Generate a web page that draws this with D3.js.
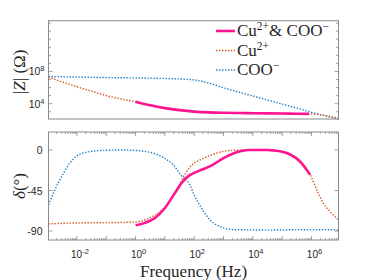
<!DOCTYPE html>
<html>
<head>
<meta charset="utf-8">
<script src="https://cdn.jsdelivr.net/npm/d3@7"></script>
<style>
  body { margin: 0; background: #fff; }
  svg text { fill: #262626; }
</style>
</head>
<body>
<div id="chart"></div>
<script>
// frequency exponents (log10 Hz) and values
const magFreq   = [-2.97, -2.5, -2, -1.5, -1, -0.5, 0, 0.5, 1, 1.5, 2, 2.5, 3, 3.5, 4, 4.5, 5, 5.5, 6, 6.5, 6.92];
const magCu     = [7.3, 6.7, 6.1, 5.55, 5.0, 4.6, 4.22, 3.8, 3.45, 3.2, 3.02, 2.92, 2.87, 2.84, 2.82, 2.8, 2.78, 2.76, 2.72, 2.52, 2.2];
const magCoo    = [7.38, 7.34, 7.3, 7.27, 7.24, 7.22, 7.2, 7.17, 7.13, 7.07, 6.95, 6.55, 5.97, 5.45, 4.95, 4.45, 3.95, 3.45, 2.93, 2.45, 2.05];
const bothFreq  = [0, 0.5, 1, 1.5, 2, 2.5, 3, 3.5, 4, 4.5, 5, 5.5, 5.92];
const magBoth   = [4.25, 3.8, 3.45, 3.2, 3.02, 2.92, 2.87, 2.84, 2.82, 2.8, 2.78, 2.76, 2.74];

const phCuFreq  = [-2.97, -2, -1, 0, 0.43, 0.77, 1.1, 1.44, 1.7, 2.0, 2.2, 2.55, 2.9, 3.35, 4, 4.7, 5.0, 5.3, 5.73, 5.95, 6.2, 6.4, 6.62, 6.92];
const phCu      = [-82.2, -81, -80.7, -80, -76.3, -70, -60, -42, -26, -14.5, -11, -6, -2.2, -0.3, 0, 0, -1.5, -5, -16, -27, -46, -59, -68, -77.5];
const phCooFreq = [-2.97, -2.75, -2.5, -2.25, -2, -1.75, -1.5, -1, -0.5, 0, 0.3, 0.6, 0.87, 1.1, 1.27, 1.55, 1.84, 2.0, 2.2, 2.55, 3, 3.35, 4, 4.5, 5, 5.5, 6, 6.5, 6.92];
const phCoo     = [-61, -44, -28, -15, -6.5, -3, -1.5, -0.3, 0, -0.5, -1.5, -3.5, -7, -11.5, -16, -28, -38, -50, -62, -78, -86.5, -88.5, -88.8, -89, -88.8, -88.5, -88.8, -88.5, -89];
const phBothFreq = [0, 0.32, 0.66, 1.0, 1.34, 1.57, 1.8, 2.0, 2.25, 2.55, 3.0, 3.57, 3.9, 4.5, 4.7, 5.0, 5.27, 5.6, 5.95];
const phBoth    = [-83.7, -81, -75.5, -64.4, -47.8, -36.7, -29, -25.5, -22, -18, -9, -1.5, 0, 0, -0.5, -2, -5, -12.6, -27.4];

const xTickExp   = [-2, 0, 2, 4, 6];
const magTickExp = [4, 8];
const phTicks    = [0, -45, -90];

const colors = {both: "#ff1493", cu: "#d95319", coo: "#1f80c8"};

const W = 374, H = 280;
const svg = d3.select("#chart").append("svg")
  .attr("width", W).attr("height", H);

const x = d3.scaleLog().domain([Math.pow(10, -2.97), Math.pow(10, 6.92)]).range([48.5, 338.5]);
const yMag = d3.scaleLog().domain([Math.pow(10, 2.1), Math.pow(10, 14.3)]).range([119, 20.7]);
const yPh = d3.scaleLinear().domain([-100, 20]).range([240, 132]);

const axisCol = "#8a8a8a";
const sans = "'Liberation Sans', Arial, sans-serif";
const serif = "'Liberation Serif', 'DejaVu Serif', serif";

function pts(fr, vals, log) {
  return fr.map((f, i) => ({f: Math.pow(10, f), v: log ? Math.pow(10, vals[i]) : vals[i]}));
}

function drawLine(g, data, y, col, solid) {
  const line = d3.line().x(d => x(d.f)).y(d => y(d.v)).curve(d3.curveMonotoneX);
  g.append("path").datum(data)
    .attr("d", line)
    .attr("fill", "none")
    .attr("stroke", col)
    .attr("stroke-width", solid ? 2.6 : 1.4)
    .attr("stroke-dasharray", solid ? null : "1.4 1.6");
}

function pow10Label(sel, exp, anchor) {
  sel.attr("text-anchor", anchor);
  sel.append("tspan").text("10");
  sel.append("tspan").attr("dy", -4).attr("font-size", 7.5).text(exp);
}

// ---------- top panel: |Z| ----------
const [x0, x1] = x.range();
const topG = svg.append("g");
const t0 = yMag.range()[1], t1 = yMag.range()[0];

drawLine(topG, pts(magFreq, magCoo, true), yMag, colors.coo, false);
drawLine(topG, pts(magFreq, magCu, true), yMag, colors.cu, false);
drawLine(topG, pts(bothFreq, magBoth, true), yMag, colors.both, true);

// decade ticks on both sides
d3.range(3, 15).forEach(e => {
  const yy = yMag(Math.pow(10, e));
  const len = magTickExp.includes(e) ? 4 : 2.5;
  topG.append("line").attr("x1", x0).attr("x2", x0 + len).attr("y1", yy).attr("y2", yy).attr("stroke", axisCol).attr("stroke-width", 0.8);
  topG.append("line").attr("x1", x1).attr("x2", x1 - len).attr("y1", yy).attr("y2", yy).attr("stroke", axisCol).attr("stroke-width", 0.8);
});
topG.append("rect").attr("x", x0).attr("y", t0).attr("width", x1 - x0).attr("height", t1 - t0)
  .attr("fill", "none").attr("stroke", axisCol).attr("stroke-width", 1);

magTickExp.forEach(e => {
  topG.append("text").attr("x", x0 - 4).attr("y", yMag(Math.pow(10, e)) + 4)
    .attr("font-family", sans).attr("font-size", 10.5)
    .call(s => pow10Label(s, e, "end"));
});

topG.append("text")
  .attr("transform", `translate(25,${(t0 + t1) / 2 + 2}) rotate(-90)`)
  .attr("text-anchor", "middle").attr("font-family", serif).attr("font-size", 17)
  .call(s => {
    s.append("tspan").text("|");
    s.append("tspan").attr("font-style", "italic").text("Z");
    s.append("tspan").text("| (Ω)");
  });

// legend
const legend = [
  {name: "Cu", sup: "2+", rest: "& COO", sup2: "−", col: colors.both, solid: true},
  {name: "Cu", sup: "2+", rest: "", sup2: "", col: colors.cu, solid: false},
  {name: "COO", sup: "−", rest: "", sup2: "", col: colors.coo, solid: false}
];
legend.forEach((d, i) => {
  const ly = 31 + i * 19.5;
  topG.append("line").attr("x1", 216).attr("x2", 235).attr("y1", ly).attr("y2", ly)
    .attr("stroke", d.col).attr("stroke-width", d.solid ? 2.6 : 1.4)
    .attr("stroke-dasharray", d.solid ? null : "1.4 1.6");
  const t = topG.append("text").attr("x", 237).attr("y", ly + 5)
    .attr("font-family", serif).attr("font-size", 17);
  t.append("tspan").text(d.name);
  t.append("tspan").attr("dy", -6).attr("font-size", 11.5).text(d.sup);
  if (d.rest) {
    t.append("tspan").attr("dy", 6).text(d.rest);
    t.append("tspan").attr("dy", -6).attr("font-size", 11.5).text(d.sup2);
  }
});

// ---------- bottom panel: phase ----------
const bot = svg.append("g");
const b0 = yPh.range()[1], b1 = yPh.range()[0];

drawLine(bot, pts(phCooFreq, phCoo, false), yPh, colors.coo, false);
drawLine(bot, pts(phCuFreq, phCu, false), yPh, colors.cu, false);
drawLine(bot, pts(phBothFreq, phBoth, false), yPh, colors.both, true);

// x ticks (major per decade, minor 2..9), top and bottom
d3.range(-3, 7).forEach(e => {
  d3.range(1, 10).forEach(m => {
    const f = m * Math.pow(10, e);
    if (f < x.domain()[0] || f > x.domain()[1]) return;
    const xx = x(f);
    const len = m === 1 ? 4 : 2;
    bot.append("line").attr("x1", xx).attr("x2", xx).attr("y1", b1).attr("y2", b1 - len).attr("stroke", axisCol).attr("stroke-width", 0.8);
    bot.append("line").attr("x1", xx).attr("x2", xx).attr("y1", b0).attr("y2", b0 + len).attr("stroke", axisCol).attr("stroke-width", 0.8);
  });
});
phTicks.forEach(v => {
  const yy = yPh(v);
  bot.append("line").attr("x1", x0).attr("x2", x0 + 4).attr("y1", yy).attr("y2", yy).attr("stroke", axisCol).attr("stroke-width", 0.8);
  bot.append("line").attr("x1", x1).attr("x2", x1 - 4).attr("y1", yy).attr("y2", yy).attr("stroke", axisCol).attr("stroke-width", 0.8);
  bot.append("text").attr("x", x0 - 6).attr("y", yy + 4)
    .attr("text-anchor", "end").attr("font-family", sans).attr("font-size", 10.5).text(v);
});
bot.append("rect").attr("x", x0).attr("y", b0).attr("width", x1 - x0).attr("height", b1 - b0)
  .attr("fill", "none").attr("stroke", axisCol).attr("stroke-width", 1);

xTickExp.forEach(e => {
  bot.append("text").attr("x", x(Math.pow(10, e)) + 3).attr("y", b1 + 17.5)
    .attr("font-family", sans).attr("font-size", 10)
    .call(s => pow10Label(s, e, "middle"));
});

bot.append("text")
  .attr("transform", `translate(25,${(b0 + b1) / 2}) rotate(-90)`)
  .attr("text-anchor", "middle").attr("font-family", serif).attr("font-size", 17)
  .call(s => {
    s.append("tspan").attr("font-style", "italic").text("δ");
    s.append("tspan").text("(°)");
  });

svg.append("text").attr("x", (x0 + x1) / 2).attr("y", 276.5)
  .attr("text-anchor", "middle").attr("font-family", serif).attr("font-size", 17)
  .text("Frequency (Hz)");
</script>
</body>
</html>
